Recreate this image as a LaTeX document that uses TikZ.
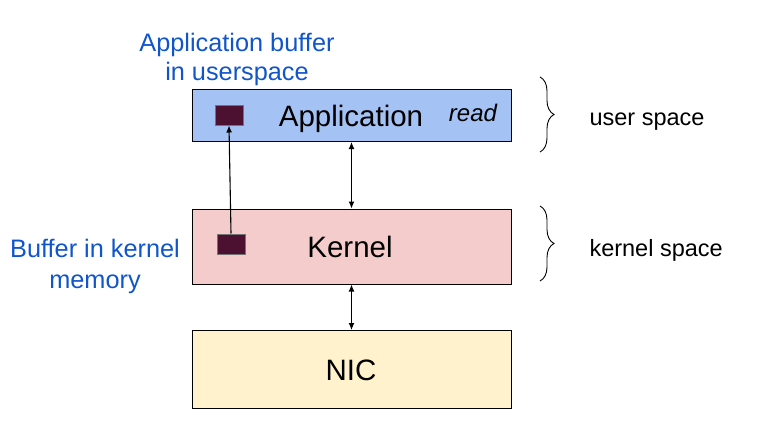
\documentclass[tikz,border=0pt]{standalone}
\usepackage{fontspec}
\setmainfont{Liberation Sans}
\usetikzlibrary{arrows.meta,decorations.pathreplacing}
\definecolor{appblue}{HTML}{A4C2F4}
\definecolor{kernpink}{HTML}{F4CCCC}
\definecolor{nicyellow}{HTML}{FFF2CC}
\definecolor{bufcol}{HTML}{4C1130}
\definecolor{notecol}{HTML}{1155CC}
\tikzset{
  layer/.style={draw=black, line width=1pt, minimum width=319pt, inner sep=0pt,
    font=\fontsize{29.5}{33}\selectfont},
  bufbox/.style={draw=black!55, line width=1pt, fill=bufcol, minimum width=28pt,
    minimum height=20pt, inner sep=0pt},
  note/.style={text=notecol, align=center, font=\fontsize{25.3}{29}\selectfont},
  side/.style={font=\fontsize{23.5}{27}\selectfont, anchor=west},
  link/.style={line width=1.1pt, {Latex[length=7pt,width=6pt]}-{Latex[length=7pt,width=6pt]}},
  bracket/.style={line width=0.9pt, decorate, decoration={brace, amplitude=14pt}}
}
\begin{document}
\begin{tikzpicture}[x=1pt, y=-1pt]
  \useasboundingbox (0,0) rectangle (760,439);
  % layers
  \node[layer, fill=appblue, minimum height=52pt] (app) at (351.5,115.5) {};
  \node[layer, fill=kernpink, minimum height=75pt] (kernel) at (351.5,246.5) {};
  \node[layer, fill=nicyellow, minimum height=78pt] (nic) at (351.5,369.5) {};
  \node[font=\fontsize{29.5}{33}\selectfont] (apptext) at (351,119) {Application};
  \node[font=\fontsize{29.5}{33}\selectfont] (kerntext) at (350,247) {Kernel};
  \node[font=\fontsize{29.5}{33}\selectfont] (nictext) at (351,370) {NIC};
  \node[font=\fontsize{24}{28}\selectfont\itshape] (read) at (473,113) {read};
  % buffers
  \node[bufbox] (appbuf) at (229,115) {};
  \node[bufbox] (kbuf) at (231,244) {};
  \draw[line width=1.1pt, -{Latex[length=7pt,width=6pt]}] (kbuf.north) -- (appbuf.south);
  \draw[link] (app.south) -- (kernel.north);
  \draw[link] (kernel.south) -- (nic.north);
  % notes
  \node[note] (appnote) at (237,59) {Application buffer\\in userspace};
  \node[note, font=\fontsize{25.3}{31}\selectfont] (knote) at (95,266) {Buffer in kernel\\memory};
  % braces
  \coordinate (utop) at (540,77);
  \coordinate (ubot) at (540,152);
  \coordinate (ktop) at (540,206);
  \coordinate (kbot) at (540,281);
  \draw[bracket] (utop) -- (ubot);
  \draw[bracket] (ktop) -- (kbot);
  \node[side] (user) at (586,122) {user space};
  \node[side] (kspace) at (586,250) {kernel space};
\end{tikzpicture}
\end{document}
